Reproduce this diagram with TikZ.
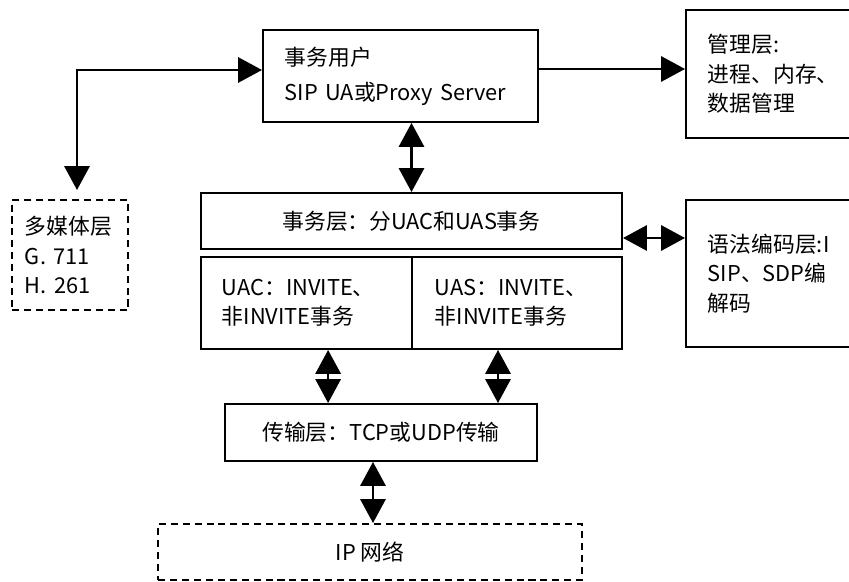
\documentclass[tikz,border=0pt]{standalone}
\usepackage{fontspec}
\setmainfont{Noto Sans CJK SC}
\usetikzlibrary{arrows.meta}

\tikzset{
  box/.style={draw, line width=1.4pt, inner ysep=0pt, align=left,
    font=\fontsize{15.5pt}{21pt}\selectfont},
  dbox/.style={box, dash pattern=on 5pt off 3.5pt},
  link/.style={line width=1.5pt, -{Triangle[length=17pt,width=18pt]}},
  dlink/.style={line width=1.5pt, {Triangle[length=17pt,width=18pt]}-{Triangle[length=17pt,width=18pt]}},
}

\begin{document}
\begin{tikzpicture}[x=0.025cm,y=-0.025cm]
        \clip (0,0) rectangle (849,582);
        % upper part
        \node[box, inner xsep=0.55cm, text width=5.775cm, minimum height=2.3cm,
          font=\fontsize{15.5pt}{25pt}\selectfont] (user) at (400.5,76) {事务用户\\SIP UA或Proxy Server};
        \node[box, inner xsep=0.55cm, text width=3.75cm, minimum height=3.2cm] (mgmt) at (783,74) {管理层:\\进程、内存、\\数据管理};
        \node[dbox, inner xsep=0.325cm, text width=2.25cm, minimum height=2.75cm] (media) at (70,255) {多媒体层\\G. 711\\H. 261};
        % transaction layer
        \node[box, align=center, minimum width=10.525cm, minimum height=1.4cm] (trans) at (411.5,221) {事务层：分UAC和UAS事务};
        \node[box, inner xsep=0.525cm, text width=4.225cm, minimum height=2.3cm] (uac) at (306.5,303) {UAC：INVITE、\\非INVITE事务};
        \node[box, inner xsep=0.575cm, text width=4.1cm, minimum height=2.3cm] (uas) at (517,303) {UAS：INVITE、\\非INVITE事务};
        \node[box, inner xsep=0.55cm, text width=3.75cm, minimum height=3.675cm] (syntax) at (783,273.5) {语法编码层:I\\SIP、SDP编\\解码};
        % lower part
        \node[box, align=center, minimum width=7.8cm, minimum height=1.425cm] (transport) at (381,432.5) {传输层：TCP或UDP传输};
        \node[dbox, align=center, minimum width=10.6cm, minimum height=1.4cm] (ip) at (370,552) {IP 网络};
        \coordinate (mtip) at (77,190);
        % connectors
        \draw[link] ([yshift=0.175cm]user.east) -- ([yshift=0.175cm]user.east -| mgmt.west);
        \draw[dlink] (mtip) |- ([yshift=0.15cm]user.west);
        \draw[dlink] (trans.north |- user.south) -- (trans.north);
        \draw[dlink] ([yshift=-0.425cm]trans.east) -- ([yshift=-0.425cm]trans.east -| syntax.west);
        \draw[dlink] ([xshift=0.54cm]uac.south) -- ([xshift=0.54cm]uac.south |- transport.north);
        \draw[dlink] ([xshift=-0.475cm]uas.south) -- ([xshift=-0.475cm]uas.south |- transport.north);
        \draw[dlink] ([xshift=-0.2cm]transport.south) -- ([xshift=-0.2cm]transport.south |- ip.north);
\end{tikzpicture}
\end{document}
